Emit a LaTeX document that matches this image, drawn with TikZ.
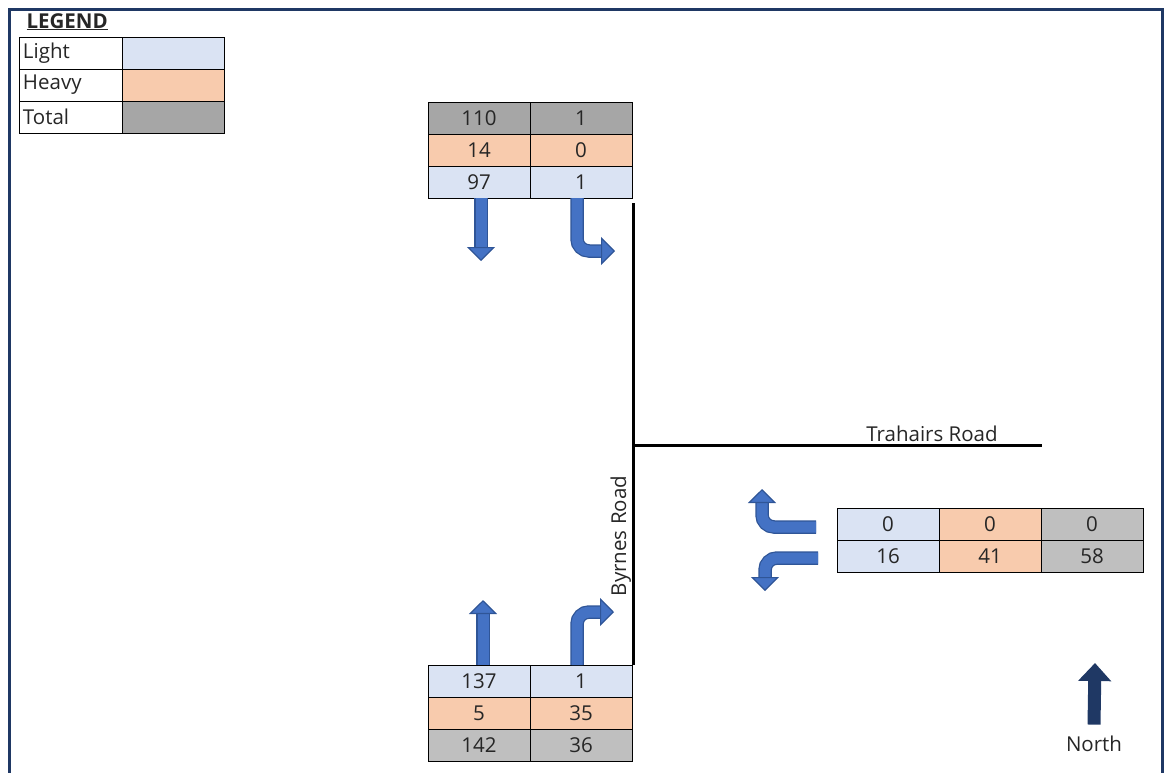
\documentclass[tikz,border=0pt]{standalone}
\usepackage{fontspec}
\setmainfont{Open Sans}
\usepackage{xcolor}
\usetikzlibrary{arrows.meta, positioning}

\definecolor{lightc}{HTML}{DAE3F3}
\definecolor{heavyc}{HTML}{F8CBAD}
\definecolor{totalc}{HTML}{A6A6A6}
\definecolor{totalpale}{HTML}{BFBFBF}
\definecolor{flowblue}{HTML}{4472C4}
\definecolor{flowedge}{HTML}{2F5597}
\definecolor{navy}{HTML}{1F3864}
\definecolor{ink}{HTML}{262626}

\begin{document}
\begin{tikzpicture}[x=1pt, y=-1pt, text=ink, font=\fontsize{20.5}{24}\selectfont,
  cell/.style={draw=black, line width=0.9pt, outer sep=0pt, inner sep=0pt,
    minimum width=102pt, minimum height=32pt},
  keycell/.style={cell, inner xsep=4pt, text width=95pt, align=left},
  road/.style={line width=3pt, black},
  flow/.style={line width=11pt, flowblue, rounded corners=12pt,
    -{Triangle[width=28pt, length=14pt, line width=1.2pt, color=flowedge, fill=flowblue]},
    preaction={draw, -, line width=13.5pt, flowedge, shorten >=13pt}}]
  \useasboundingbox (0,0) rectangle (1164,772);
  %% frame
  \draw[navy, line width=3pt] (9,9) rectangle (1162,790);

  %% legend
  \node[anchor=base west, font=\fontsize{20.5}{24}\selectfont\bfseries] (legend) at (23,28) {\underline{LEGEND}};
  \node[keycell, anchor=north west] (keyL) at (19,37) {Light};
  \node[keycell, below=0pt of keyL] (keyH) {Heavy};
  \node[keycell, below=0pt of keyH] (keyT) {Total};
  \node[cell, fill=lightc, right=0pt of keyL] (swL) {};
  \node[cell, fill=heavyc, right=0pt of keyH] (swH) {};
  \node[cell, fill=totalc, right=0pt of keyT] (swT) {};

  %% north approach (Byrnes Road)
  \node[cell, fill=totalc, anchor=north west] (nt1) at (428,102) {110};
  \node[cell, fill=totalc, right=0pt of nt1] (nt2) {1};
  \node[cell, fill=heavyc, below=0pt of nt1] (nh1) {14};
  \node[cell, fill=heavyc, below=0pt of nt2] (nh2) {0};
  \node[cell, fill=lightc, below=0pt of nh1] (nl1) {97};
  \node[cell, fill=lightc, below=0pt of nh2] (nl2) {1};

  %% south approach (Byrnes Road)
  \node[cell, fill=lightc, anchor=north west] (sl1) at (428,665) {137};
  \node[cell, fill=lightc, right=0pt of sl1] (sl2) {1};
  \node[cell, fill=heavyc, below=0pt of sl1] (sh1) {5};
  \node[cell, fill=heavyc, below=0pt of sl2] (sh2) {35};
  \node[cell, fill=totalpale, below=0pt of sh1] (st1) {142};
  \node[cell, fill=totalpale, below=0pt of sh2] (st2) {36};

  %% east approach (Trahairs Road)
  \node[cell, fill=lightc, anchor=north west] (e1l) at (837,508) {0};
  \node[cell, fill=heavyc, right=0pt of e1l] (e1h) {0};
  \node[cell, fill=totalpale, right=0pt of e1h] (e1t) {0};
  \node[cell, fill=lightc, below=0pt of e1l] (e2l) {16};
  \node[cell, fill=heavyc, below=0pt of e1h] (e2h) {41};
  \node[cell, fill=totalpale, below=0pt of e1t] (e2t) {58};

  %% roads
  \coordinate (byrN) at (633,203);
  \coordinate (jn) at (633,445);
  \coordinate (trE) at (1042,445);
  \draw[road] (byrN) -- (byrN |- sl2.north);
  \draw[road] (jn) -- (trE);
  \node[anchor=base] (trlabel) at (932,441) {Trahairs Road};
  \node[rotate=90, anchor=base] (byrlabel) at (626,536) {Byrnes Road};

  %% movement arrows
  \coordinate (nthru) at (481,261);
  \coordinate (nleft) at (615,251);
  \coordinate (sthru) at (483,600);
  \coordinate (sright) at (614,612);
  \coordinate (eleft) at (762,489);
  \coordinate (eright) at (765,591);
  \draw[flow] ([xshift=2pt]nl1.south) -- (nthru);
  \draw[flow] ([xshift=-4pt]nl2.south) |- (nleft);
  \draw[flow] ([xshift=4pt]sl1.north) -- (sthru);
  \draw[flow] ([xshift=-4pt]sl2.north) |- (sright);
  \draw[flow] ([xshift=-21pt,yshift=-3pt]e1l.west) -| (eleft);
  \draw[flow] ([xshift=-19pt,yshift=-2pt]e2l.west) -| (eright);

  %% north arrow
  \node (north) at (1094,744) {North};
  \coordinate (ntip) at (1095,663);
  \draw[navy, line width=13pt, -{Triangle[width=32pt, length=18pt]}]
    ([yshift=8pt]north.north) -- (ntip);
\end{tikzpicture}
\end{document}
